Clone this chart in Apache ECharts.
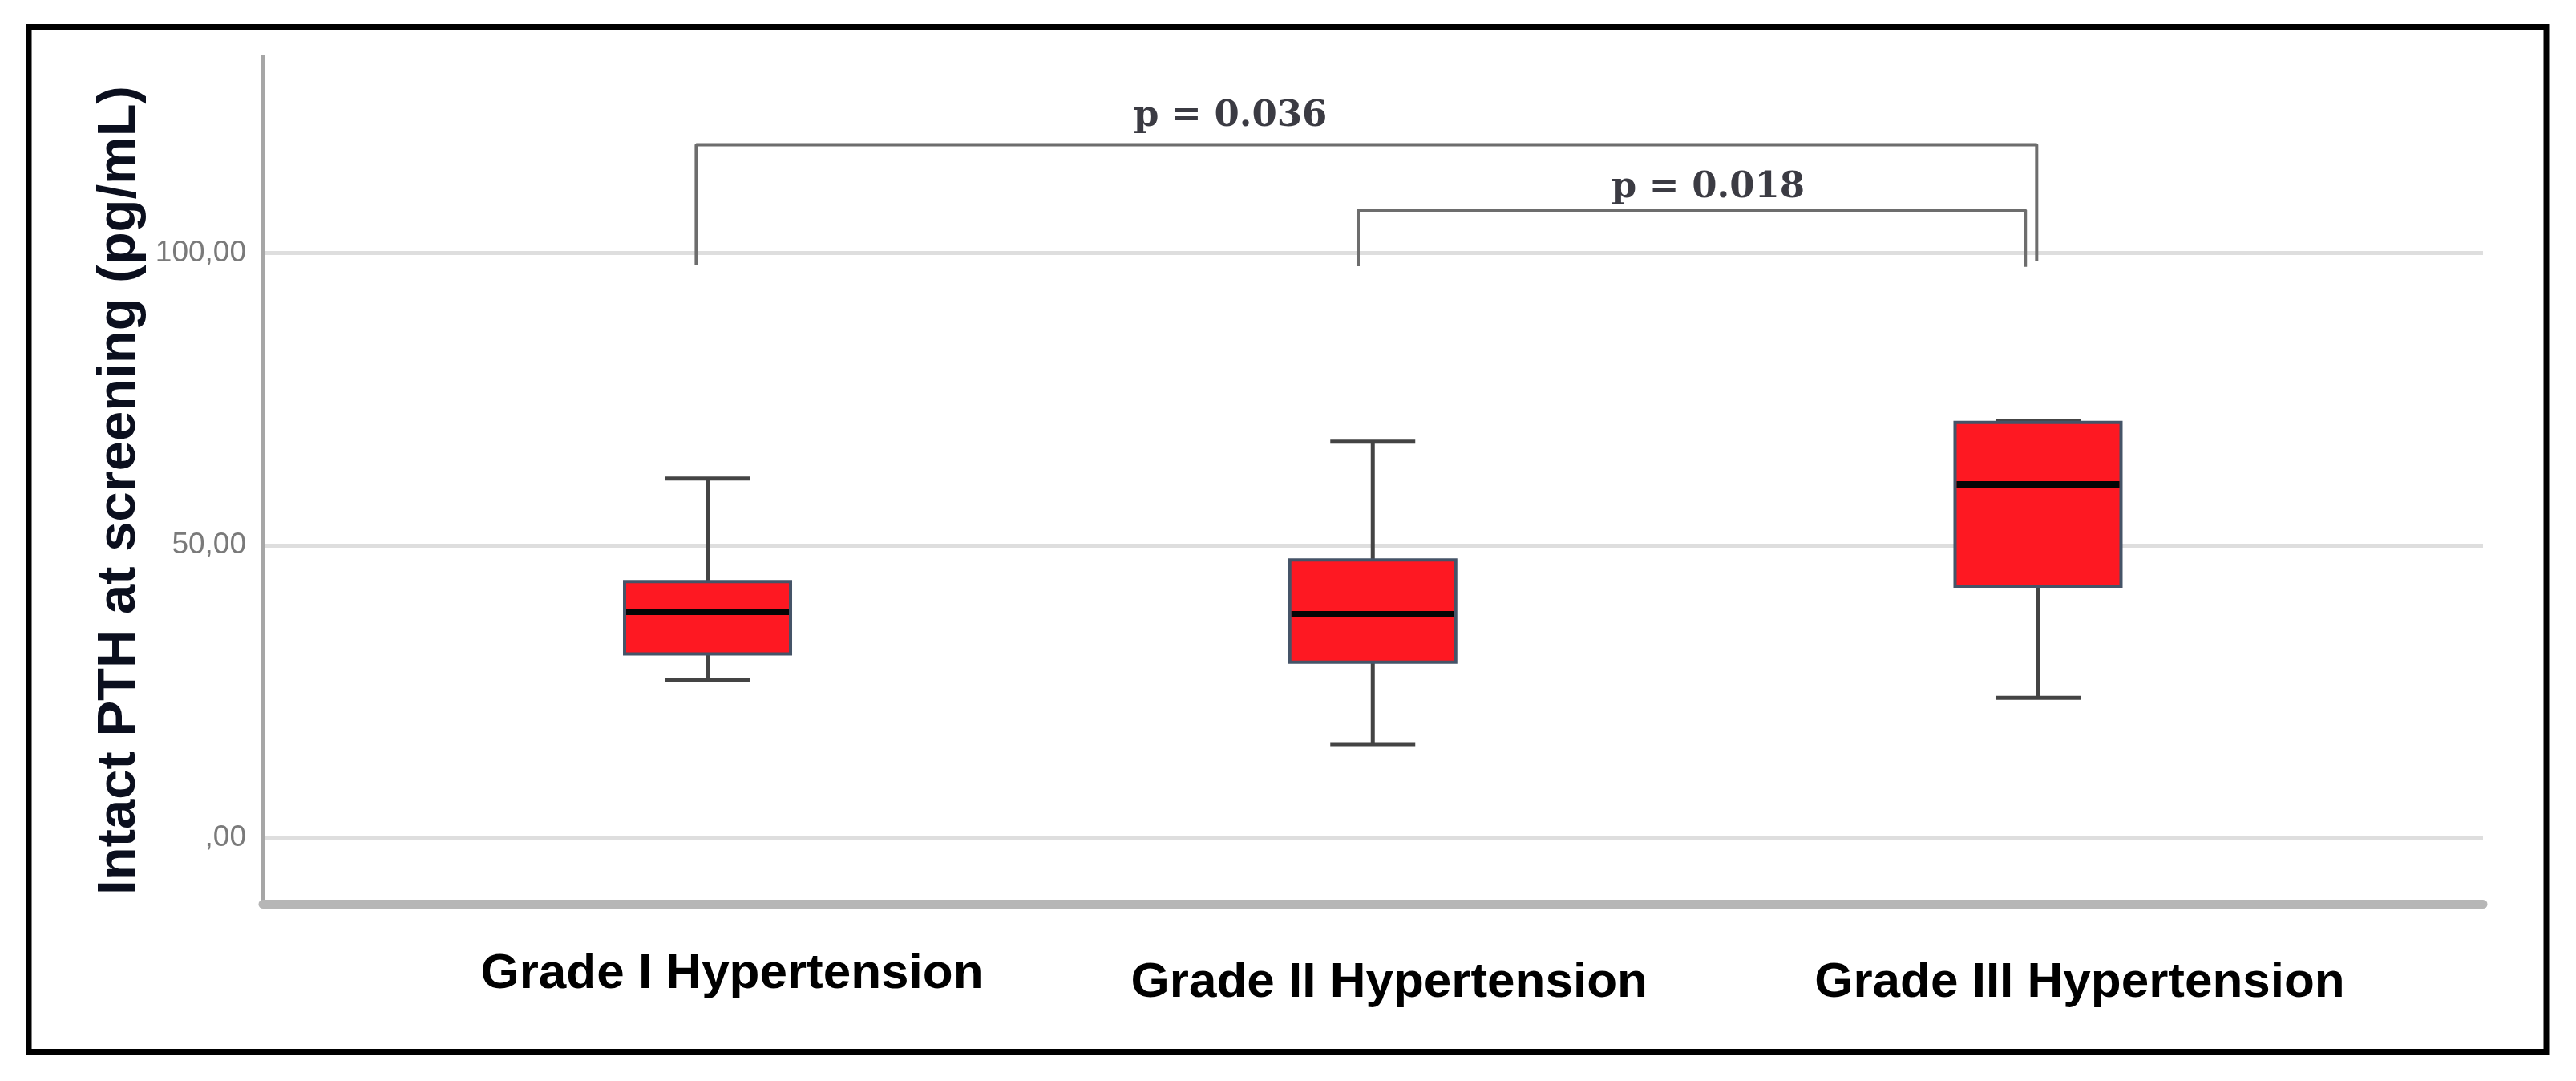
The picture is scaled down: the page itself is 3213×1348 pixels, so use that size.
<!DOCTYPE html>
<html><head><meta charset="utf-8">
<script src="https://cdn.jsdelivr.net/npm/echarts@6/dist/echarts.min.js"></script>
<style>html,body{margin:0;padding:0;background:#fff}#c{width:3213px;height:1348px}</style>
</head><body><div id="c"></div>
<script>
// ---- data ----
const categories = ['Grade I Hypertension', 'Grade II Hypertension', 'Grade III Hypertension'];
const groupPos = [1, 2, 3];
const whiskerLow = [27.0, 16.0, 23.9];
const quartile1 = [31.4, 30.0, 43.0];
const medians = [38.6, 38.2, 60.4];
const quartile3 = [43.8, 47.5, 71.0];
const whiskerHigh = [61.4, 67.7, 71.3];
const yTicks = [0, 50, 100];
const yTickLabels = [',00', '50,00', '100,00'];
const pLabels = ['p = 0.036', 'p = 0.018'];
const pLabelX = [1.786, 2.504];
const pLabelY = [123.3, 111.1];
const bracket036X = [0.983, 0.983, 2.998, 2.998];
const bracket036Y = [98.0, 118.5, 118.5, 98.6];
const bracket018X = [1.978, 1.978, 2.981, 2.981];
const bracket018Y = [97.7, 107.3, 107.3, 97.6];

// ---- styles ----
const BOX_W = 207, CAP_W = 106;
const BOX_FILL = '#fe1822', BOX_EDGE = '#455468', WHISKER = '#444444', MEDIAN = '#050505';
const labelRichBase = { fontFamily: 'Liberation Sans', fontWeight: 'bold', fontSize: 62, lineHeight: 62, color: '#000' };

const boxData = groupPos.map((x, i) => [x, whiskerLow[i], quartile1[i], medians[i], quartile3[i], whiskerHigh[i]]);
const zip = (xs, ys) => xs.map((x, i) => [x, ys[i]]);

const chart = echarts.init(document.getElementById('c'), null, { renderer: 'canvas' });
chart.setOption({
  backgroundColor: '#fff',
  animation: false,
  grid: { left: 328, right: 116, top: 71, bottom: 221, containLabel: false, outerBoundsMode: 'none' },
  xAxis: {
    type: 'value', min: 0.3317, max: 3.6689,
    axisLine: { show: true, onZero: false, lineStyle: { color: '#b6b6b6', width: 11 } },
    axisTick: { show: false },
    splitLine: { show: false },
    axisLabel: {
      customValues: groupPos,
      margin: 99,
      verticalAlign: 'middle',
      formatter: v => { const i = groupPos.indexOf(Math.round(v)); return '{g' + i + '|' + categories[i] + '}'; },
      rich: {
        g0: Object.assign({ padding: [0, 0, 23, 61] }, labelRichBase),
        g1: Object.assign({ padding: [0, 0, 0, 41] }, labelRichBase),
        g2: Object.assign({ padding: [0, 0, 0, 104] }, labelRichBase)
      }
    }
  },
  yAxis: {
    type: 'value', min: -11.3, max: 133.5,
    name: 'Intact PTH at screening (pg/mL)',
    nameLocation: 'middle', nameRotate: 90, nameGap: 134,
    nameTextStyle: { fontFamily: 'Liberation Sans', fontWeight: 'bold', fontSize: 67, lineHeight: 67, color: '#0b0f1e', padding: [0, 25, 0, 0] },
    axisLine: { show: true, onZero: false, lineStyle: { color: '#a6a6a6', width: 6 } },
    axisTick: { show: false, customValues: yTicks },
    splitLine: { show: true, lineStyle: { color: '#dedede', width: 5 } },
    axisLabel: {
      customValues: yTicks, margin: 21,
      fontFamily: 'Liberation Sans', fontSize: 37, color: '#7a7a7a',
      formatter: v => yTickLabels[yTicks.indexOf(Math.round(v))]
    }
  },
  graphic: [{
    type: 'rect', shape: { x: 36, y: 33.5, width: 3140, height: 1278 },
    style: { fill: 'none', stroke: '#000', lineWidth: 7 }, z: 100
  }],
  series: [
    {
      type: 'custom', name: 'PTH',
      encode: { x: 0, y: [1, 2, 3, 4, 5] },
      data: boxData, z: 5,
      renderItem: (params, api) => {
        const x = api.value(0);
        const lo = api.coord([x, api.value(1)]);
        const q1 = api.coord([x, api.value(2)]);
        const md = api.coord([x, api.value(3)]);
        const q3 = api.coord([x, api.value(4)]);
        const hi = api.coord([x, api.value(5)]);
        const cx = md[0], hb = BOX_W / 2, hc = CAP_W / 2;
        const ws = { stroke: WHISKER, lineWidth: 5 };
        return { type: 'group', children: [
          { type: 'line', shape: { x1: cx, y1: lo[1], x2: cx, y2: q1[1] }, style: ws },
          { type: 'line', shape: { x1: cx, y1: q3[1], x2: cx, y2: hi[1] }, style: ws },
          { type: 'line', shape: { x1: cx - hc, y1: lo[1], x2: cx + hc, y2: lo[1] }, style: ws },
          { type: 'line', shape: { x1: cx - hc, y1: hi[1], x2: cx + hc, y2: hi[1] }, style: ws },
          { type: 'rect', shape: { x: cx - hb, y: q3[1], width: 2 * hb, height: q1[1] - q3[1] }, style: { fill: BOX_FILL, stroke: BOX_EDGE, lineWidth: 4 } },
          { type: 'line', shape: { x1: cx - hb + 2, y1: md[1], x2: cx + hb - 2, y2: md[1] }, style: { stroke: MEDIAN, lineWidth: 8 } }
        ] };
      }
    },
    {
      type: 'line', data: zip(bracket036X, bracket036Y), symbol: 'none', z: 6,
      lineStyle: { color: '#6d6d6d', width: 4 }
    },
    {
      type: 'line', data: zip(bracket018X, bracket018Y), symbol: 'none', z: 6,
      lineStyle: { color: '#6d6d6d', width: 4 }
    },
    {
      type: 'scatter', symbolSize: 1, itemStyle: { color: 'rgba(0,0,0,0)' }, z: 7,
      data: pLabels.map((t, i) => ({ name: t, value: [pLabelX[i], pLabelY[i]] })),
      label: {
        show: true, position: 'inside', formatter: p => p.name,
        fontFamily: 'DejaVu Serif', fontWeight: 'bold', fontSize: 45, color: '#0a0a14'
      },
      labelLayout: { hideOverlap: false }
    }
  ]
});
</script></body></html>
